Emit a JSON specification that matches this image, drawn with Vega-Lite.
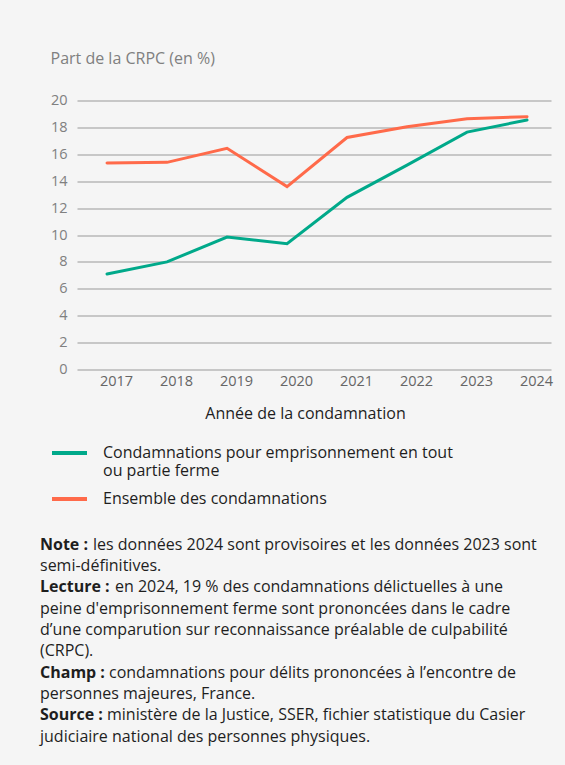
{
  "$schema": "https://vega.github.io/schema/vega-lite/v6.json",
  "background": "#f5f5f5",
  "padding": {"left": 40, "top": 50.5, "right": 20, "bottom": 30},
  "autosize": {"type": "pad"},
  "bounds": "flush",
  "spacing": 175,
  "config": {
    "font": "Open Sans",
    "view": {"stroke": null},
    "axis": {"labelFont": "Open Sans", "titleFont": "Open Sans"},
    "legend": {"labelFont": "Open Sans"},
    "text": {"font": "Open Sans"}
  },
  "vconcat": [
    {
      "width": 474,
      "height": 269,
      "data": {
        "values": [
          {"annee": "2017", "serie": "Condamnations pour emprisonnement en tout ou partie ferme", "part": 7.1},
          {"annee": "2018", "serie": "Condamnations pour emprisonnement en tout ou partie ferme", "part": 8.0},
          {"annee": "2019", "serie": "Condamnations pour emprisonnement en tout ou partie ferme", "part": 9.85},
          {"annee": "2020", "serie": "Condamnations pour emprisonnement en tout ou partie ferme", "part": 9.35},
          {"annee": "2021", "serie": "Condamnations pour emprisonnement en tout ou partie ferme", "part": 12.8},
          {"annee": "2022", "serie": "Condamnations pour emprisonnement en tout ou partie ferme", "part": 15.2},
          {"annee": "2023", "serie": "Condamnations pour emprisonnement en tout ou partie ferme", "part": 17.65},
          {"annee": "2024", "serie": "Condamnations pour emprisonnement en tout ou partie ferme", "part": 18.55},
          {"annee": "2017", "serie": "Ensemble des condamnations", "part": 15.35},
          {"annee": "2018", "serie": "Ensemble des condamnations", "part": 15.4},
          {"annee": "2019", "serie": "Ensemble des condamnations", "part": 16.45},
          {"annee": "2020", "serie": "Ensemble des condamnations", "part": 13.6},
          {"annee": "2021", "serie": "Ensemble des condamnations", "part": 17.25},
          {"annee": "2022", "serie": "Ensemble des condamnations", "part": 18.05},
          {"annee": "2023", "serie": "Ensemble des condamnations", "part": 18.65},
          {"annee": "2024", "serie": "Ensemble des condamnations", "part": 18.8}
        ]
      },
      "mark": {"type": "line", "strokeWidth": 3, "strokeCap": "round", "strokeJoin": "miter"},
      "encoding": {
        "x": {
          "field": "annee",
          "type": "ordinal",
          "scale": {"type": "point", "padding": 0.45, "align": 0.556},
          "axis": {
            "title": "Année de la condamnation",
            "titleFontSize": 16,
            "titleFontWeight": "normal",
            "titleColor": "#1e1e1e",
            "titleAlign": "center",
            "titleBaseline": "alphabetic",
            "titleX": 228,
            "titleY": 49,
            "labelAngle": 0,
            "labelFontSize": 14.5,
            "labelColor": "#666666",
            "labelOffset": 9,
            "labelPadding": 5,
            "domain": false,
            "ticks": false,
            "grid": false
          }
        },
        "y": {
          "field": "part",
          "type": "quantitative",
          "scale": {"domain": [0, 20], "nice": false},
          "axis": {
            "title": "Part de la CRPC (en %)",
            "titleAngle": 0,
            "titleAlign": "left",
            "titleBaseline": "alphabetic",
            "titleX": -27,
            "titleY": -37,
            "titleFontSize": 16,
            "titleFontWeight": "normal",
            "titleColor": "#808080",
            "values": [0, 2, 4, 6, 8, 10, 12, 14, 16, 18, 20],
            "labelFontSize": 14.5,
            "labelColor": "#808080",
            "labelPadding": 10,
            "domain": false,
            "ticks": false,
            "grid": true,
            "gridColor": "#999999",
            "gridWidth": 1
          }
        },
        "color": {
          "field": "serie",
          "type": "nominal",
          "scale": {
            "domain": ["Condamnations pour emprisonnement en tout ou partie ferme", "Ensemble des condamnations"],
            "range": ["#00A98A", "#FF6A4A"]
          },
          "legend": {
            "orient": "none",
            "legendX": -27,
            "legendY": 333,
            "title": null,
            "symbolType": "stroke",
            "symbolSize": 1225,
            "symbolStrokeWidth": 4,
            "labelFontSize": 16,
            "labelColor": "#1e1e1e",
            "labelOffset": 14,
            "labelLimit": 500,
            "rowPadding": 0,
            "labelExpr": "datum.label == 'Ensemble des condamnations' ? datum.label : ['Condamnations pour emprisonnement en tout', 'ou partie ferme']"
          }
        }
      }
    },
    {
      "width": 474,
      "height": 192,
      "data": {
        "values": [
          {"k": 0, "lab": "Note :", "txt": "les données 2024 sont provisoires et les données 2023 sont"},
          {"k": 1, "lab": "", "txt": "semi-définitives."},
          {"k": 2, "lab": "Lecture :", "txt": "en 2024, 19 % des condamnations délictuelles à une"},
          {"k": 3, "lab": "", "txt": "peine d'emprisonnement ferme sont prononcées dans le cadre"},
          {"k": 4, "lab": "", "txt": "d’une comparution sur reconnaissance préalable de culpabilité"},
          {"k": 5, "lab": "", "txt": "(CRPC)."},
          {"k": 6, "lab": "Champ :", "txt": "condamnations pour délits prononcées à l’encontre de"},
          {"k": 7, "lab": "", "txt": "personnes majeures, France."},
          {"k": 8, "lab": "Source :", "txt": "ministère de la Justice, SSER, fichier statistique du Casier"},
          {"k": 9, "lab": "", "txt": "judiciaire national des personnes physiques."}
        ]
      },
      "encoding": {
        "x": {"datum": 0, "type": "quantitative", "scale": {"domain": [0, 1]}, "axis": null},
        "y": {"field": "k", "type": "ordinal", "scale": {"type": "point", "padding": 0}, "axis": null}
      },
      "layer": [
        {
          "transform": [{"filter": "datum.lab == ''"}],
          "mark": {"type": "text", "align": "left", "baseline": "middle", "fontSize": 16, "color": "#1e1e1e", "dx": -37},
          "encoding": {"text": {"field": "txt"}}
        },
        {
          "transform": [{"filter": "datum.lab != ''"}],
          "mark": {"type": "text", "align": "left", "baseline": "middle", "fontSize": 16, "fontWeight": "bold", "color": "#1e1e1e", "dx": -37},
          "encoding": {"text": {"field": "lab"}}
        },
        {
          "transform": [{"filter": "datum.lab == 'Note :'"}],
          "mark": {"type": "text", "align": "left", "baseline": "middle", "fontSize": 16, "color": "#1e1e1e", "dx": 16},
          "encoding": {"text": {"field": "txt"}}
        },
        {
          "transform": [{"filter": "datum.lab == 'Lecture :'"}],
          "mark": {"type": "text", "align": "left", "baseline": "middle", "fontSize": 16, "color": "#1e1e1e", "dx": 38},
          "encoding": {"text": {"field": "txt"}}
        },
        {
          "transform": [{"filter": "datum.lab == 'Champ :'"}],
          "mark": {"type": "text", "align": "left", "baseline": "middle", "fontSize": 16, "color": "#1e1e1e", "dx": 32},
          "encoding": {"text": {"field": "txt"}}
        },
        {
          "transform": [{"filter": "datum.lab == 'Source :'"}],
          "mark": {"type": "text", "align": "left", "baseline": "middle", "fontSize": 16, "color": "#1e1e1e", "dx": 30},
          "encoding": {"text": {"field": "txt"}}
        }
      ]
    }
  ]
}
